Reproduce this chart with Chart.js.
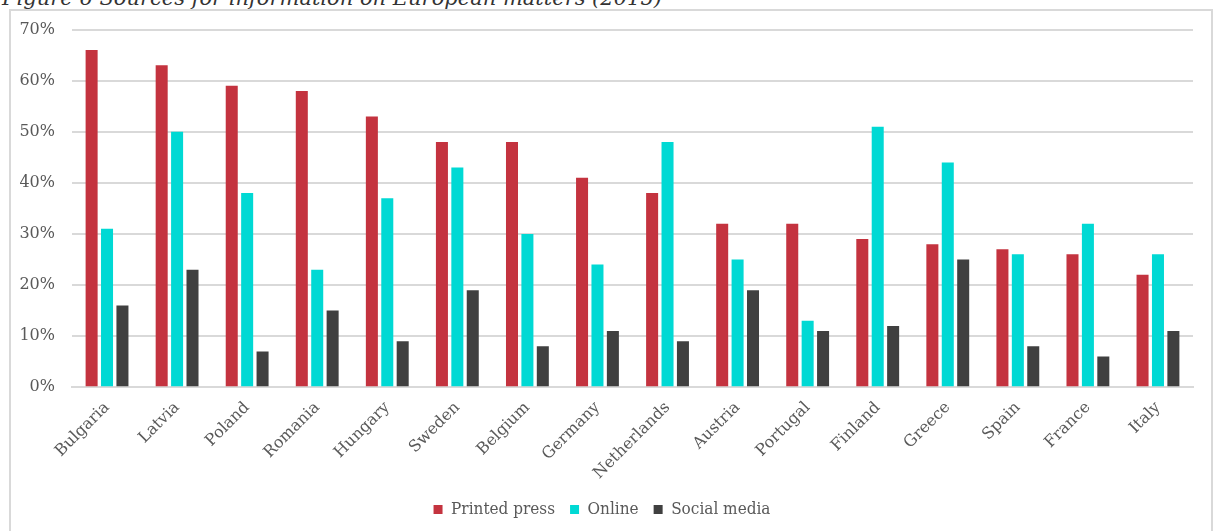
<!DOCTYPE html>
<html>
<head>
<meta charset="utf-8">
<script src="https://cdn.jsdelivr.net/npm/chart.js@4.4.1/dist/chart.umd.min.js"></script>
<style>
  html, body { margin: 0; padding: 0; background: #fff; overflow: hidden; }
  #title {
    position: absolute; left: 2px; top: -14px;
    font-family: "DejaVu Serif", serif; font-style: italic;
    font-size: 21px; color: #333; white-space: nowrap;
  }
  #frame {
    position: absolute; left: 9px; top: 9px; width: 1204px; height: 540px;
    border: 2px solid #d9d9d9; box-sizing: border-box;
  }
  #wrap { position: absolute; left: 11px; top: 3px; width: 1200px; height: 528px; }
</style>
</head>
<body>
<div id="title">Figure 6 Sources for information on European matters (2015)</div>
<div id="frame"></div>
<div id="wrap"><canvas id="chart_1"></canvas></div>
<script>
const countries = ['Bulgaria', 'Latvia', 'Poland', 'Romania', 'Hungary', 'Sweden', 'Belgium', 'Germany',
  'Netherlands', 'Austria', 'Portugal', 'Finland', 'Greece', 'Spain', 'France', 'Italy'];
const printedPress = [66, 63, 59, 58, 53, 48, 48, 41, 38, 32, 32, 29, 28, 27, 26, 22];
const online = [31, 50, 38, 23, 37, 43, 30, 24, 48, 25, 13, 51, 44, 26, 32, 26];
const socialMedia = [16, 23, 7, 15, 9, 19, 8, 11, 9, 19, 11, 12, 25, 8, 6, 11];
const yTicks = [0, 10, 20, 30, 40, 50, 60, 70];

const serif = '"DejaVu Serif", serif';

const data = {
  labels: countries,
  datasets: [
    { label: 'Printed press', data: printedPress, backgroundColor: '#c4333f' },
    { label: 'Online', data: online, backgroundColor: '#00d9d4' },
    { label: 'Social media', data: socialMedia, backgroundColor: '#404040' }
  ]
};

const config = {
  type: 'bar',
  data: data,
  options: {
    responsive: true,
    maintainAspectRatio: false,
    animation: false,
    datasets: {
      bar: { categoryPercentage: 0.66, barPercentage: 0.78 }
    },
    layout: { padding: { top: 8, right: 18, left: 0, bottom: 3 } },
    plugins: {
      legend: {
        position: 'bottom',
        labels: {
          boxWidth: 9, boxHeight: 9, padding: 15,
          color: '#595959',
          font: { family: '"DejaVu Serif Condensed", "Liberation Serif", serif', size: 17 }
        }
      },
      tooltip: { enabled: false }
    },
    scales: {
      x: {
        grid: { display: false },
        border: { color: '#d9d9d9', width: 2 },
        ticks: {
          color: '#595959', maxRotation: 45, minRotation: 45,
          font: { family: serif, size: 16 }
        }
      },
      y: {
        min: 0, max: 70,
        afterBuildTicks: (axis) => { axis.ticks = yTicks.map(v => ({ value: v })); },
        afterFit: (axis) => { axis.width = 61; },
        grid: { color: '#d9d9d9', lineWidth: 2, drawTicks: false },
        border: { display: false },
        ticks: {
          color: '#595959', padding: 17,
          font: { family: serif, size: 16 },
          callback: (v) => v + '%'
        }
      }
    }
  }
};

new Chart(document.getElementById('chart_1'), config);
</script>
</body>
</html>
